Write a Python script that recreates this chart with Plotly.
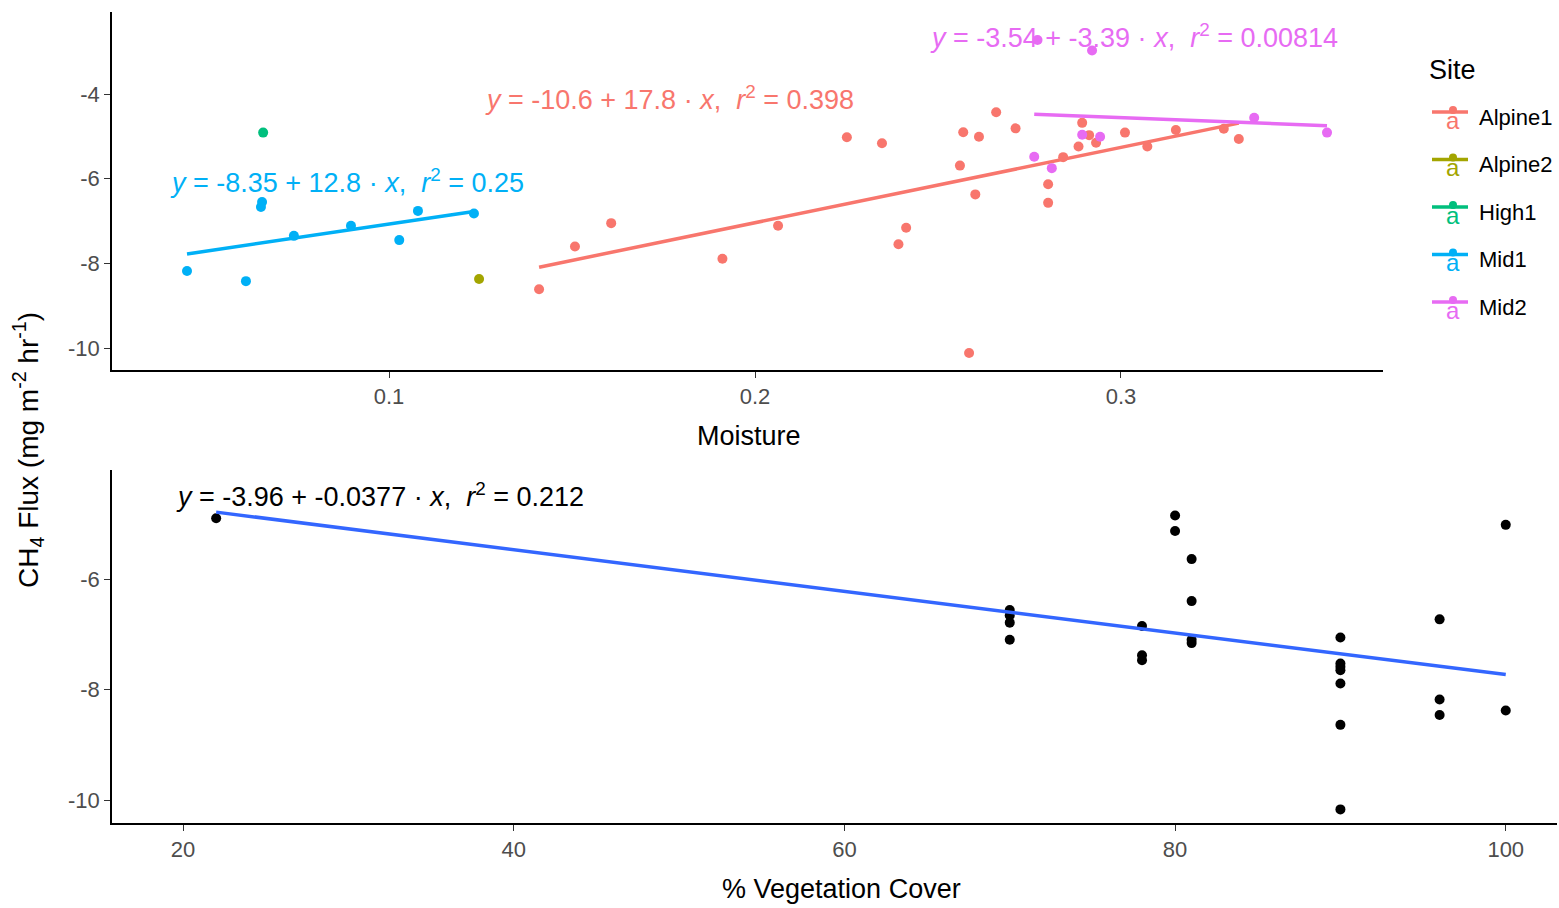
import plotly.graph_objects as go

W, H = 1559, 908

# ---------------- data ----------------
sites = ["Alpine1", "Alpine2", "High1", "Mid1", "Mid2"]
site_colors = ["#F8766D", "#A3A500", "#00BF7D", "#00B0F6", "#E76BF3"]

alpine1_moist = [0.141, 0.1508, 0.1607, 0.1911, 0.2063, 0.2251, 0.2347, 0.2392, 0.2413, 0.256,
                 0.2569, 0.2585, 0.2602, 0.2612, 0.2659, 0.2712, 0.2801, 0.2801, 0.2842, 0.2884,
                 0.2894, 0.2913, 0.2932, 0.3011, 0.3072, 0.315, 0.3281, 0.3322]
alpine1_flux = [-8.61, -7.60, -7.05, -7.89, -7.11, -5.02, -5.16, -7.55, -7.16, -5.69,
                -4.90, -10.12, -6.37, -5.01, -4.43, -4.81, -6.13, -6.57, -5.49, -5.24,
                -4.68, -4.97, -5.15, -4.91, -5.24, -4.85, -4.82, -5.06]
alpine2_moist = [0.1246]
alpine2_flux = [-8.37]
high1_moist = [0.0656]
high1_flux = [-4.91]
mid1_moist = [0.0448, 0.0609, 0.0650, 0.0653, 0.074, 0.0896, 0.1028, 0.1079, 0.1232]
mid1_flux = [-8.18, -8.42, -6.67, -6.55, -7.35, -7.11, -7.45, -6.76, -6.82]
mid2_moist = [0.2763, 0.2772, 0.2811, 0.2894, 0.2921, 0.2943, 0.3364, 0.3563]
mid2_flux = [-5.48, -2.72, -5.75, -4.96, -2.97, -5.01, -4.56, -4.91]

site_moist = [alpine1_moist, alpine2_moist, high1_moist, mid1_moist, mid2_moist]
site_flux = [alpine1_flux, alpine2_flux, high1_flux, mid1_flux, mid2_flux]

# fitted equations shown on the chart (intercept, slope, r2) ; None = no fit
fit_intercept = [-10.6, None, None, -8.35, -3.54]
fit_slope = [17.8, None, None, 12.8, -3.39]
fit_r2 = [0.398, None, None, 0.25, 0.00814]
# label anchor (data coords) for each equation
eq_x = [0.1256, None, None, 0.0395, 0.2474]
eq_y = [-4.09, None, None, -6.05, -2.63]

veg_cover = [22, 70, 70, 70, 70, 78, 78, 78, 80, 80, 81, 81, 81, 81,
             90, 90, 90, 90, 90, 90, 90, 96, 96, 96, 100, 100]
veg_flux = [-4.90, -6.56, -6.66, -6.79, -7.10, -6.85, -7.38, -7.47, -4.85, -5.13,
            -5.64, -6.40, -7.10, -7.16, -7.06, -7.53, -7.59, -7.65, -7.89, -8.64,
            -10.17, -6.73, -8.18, -8.46, -5.02, -8.38]
veg_intercept, veg_slope, veg_r2 = -3.96, -0.0377, 0.212

top_xticks = [0.1, 0.2, 0.3]
top_yticks = [-10, -8, -6, -4]
bot_xticks = [20, 40, 60, 80, 100]
bot_yticks = [-10, -8, -6]

# ---------------- figure ----------------
FONT = "Liberation Sans, Arial, sans-serif"
NB = "\u00a0"


def eq_text(a, b, r2):
    return (f"<i>y</i>{NB}={NB}{a:g}{NB}+{NB}{b:g}{NB}·{NB}<i>x</i>,{NB}{NB}"
            f"<i>r</i><sup>2</sup>{NB}={NB}{r2:g}")


fig = go.Figure()

for i, s in enumerate(sites):
    fig.add_trace(go.Scatter(x=site_moist[i], y=site_flux[i], mode="markers",
                             marker=dict(color=site_colors[i], size=10),
                             xaxis="x", yaxis="y", showlegend=False, name=s))
    if fit_intercept[i] is not None:
        xs = [min(site_moist[i]), max(site_moist[i])]
        ys = [fit_intercept[i] + fit_slope[i] * v for v in xs]
        fig.add_trace(go.Scatter(x=xs, y=ys, mode="lines",
                                 line=dict(color=site_colors[i], width=3.5),
                                 xaxis="x", yaxis="y", showlegend=False))
        fig.add_annotation(x=eq_x[i], y=eq_y[i], xref="x", yref="y",
                           text=eq_text(fit_intercept[i], fit_slope[i], fit_r2[i]),
                           showarrow=False, xanchor="left", yanchor="middle",
                           font=dict(family=FONT, size=27, color=site_colors[i]))

fig.add_trace(go.Scatter(x=veg_cover, y=veg_flux, mode="markers",
                         marker=dict(color="black", size=10),
                         xaxis="x2", yaxis="y2", showlegend=False))
vx = [min(veg_cover), max(veg_cover)]
vy = [veg_intercept + veg_slope * v for v in vx]
fig.add_trace(go.Scatter(x=vx, y=vy, mode="lines", line=dict(color="#3366FF", width=3.5),
                         xaxis="x2", yaxis="y2", showlegend=False))
fig.add_annotation(x=19.45, y=-4.48, xref="x2", yref="y2",
                   text=eq_text(veg_intercept, veg_slope, veg_r2),
                   showarrow=False, xanchor="left", yanchor="middle",
                   font=dict(family=FONT, size=27, color="black"))


def px_x(p):
    return p / W


def px_y(p):
    return 1 - p / H


def ax(ticks, domain, rng, anchor):
    return dict(showline=True, linecolor="black", linewidth=1.5, mirror=False,
                ticks="outside", ticklen=6, tickwidth=1.3, tickcolor="#333333",
                showgrid=False, zeroline=False,
                tickvals=ticks, ticktext=[f"{v:g}" for v in ticks],
                tickfont=dict(family=FONT, size=22, color="#4D4D4D"),
                domain=domain, range=rng, anchor=anchor)


fig.update_layout(
    width=W, height=H,
    margin=dict(l=0, r=0, t=0, b=0),
    paper_bgcolor="white", plot_bgcolor="white",
    showlegend=False,
    xaxis=ax(top_xticks, [px_x(112), px_x(1383)], [0.0243, 0.3716], "y"),
    yaxis=ax(top_yticks, [px_y(370), px_y(12)], [-10.52, -2.06], "x"),
    xaxis2=ax(bot_xticks, [px_x(112), px_x(1557)], [15.7, 103.1], "y2"),
    yaxis2=ax(bot_yticks, [px_y(823), px_y(470)], [-10.416, -4.027], "x2"),
)


def label(px, py, text, size, color="black", xanchor="center", angle=0):
    fig.add_annotation(x=px_x(px), y=px_y(py), xref="paper", yref="paper", text=text,
                       showarrow=False, xanchor=xanchor, yanchor="middle", textangle=angle,
                       font=dict(family=FONT, size=size, color=color))


# axis titles
label(749, 436, "Moisture", 27)
label(841, 889, "% Vegetation Cover", 27)
label(28, 450, "CH<sub>4</sub> Flux (mg m<sup>-2</sup> hr<sup>-1</sup>)", 28, angle=-90)

# legend (ggplot-style keys)
label(1427, 70, "Site", 27, xanchor="left")
for i, s in enumerate(sites):
    yc = 117 + i * 47.5
    fig.add_shape(type="line", xref="paper", yref="paper",
                  x0=px_x(1432), x1=px_x(1468), y0=px_y(yc - 5), y1=px_y(yc - 5),
                  line=dict(color=site_colors[i], width=3.5))
    label(1453, yc + 3, "a", 24, color=site_colors[i])
    fig.add_shape(type="circle", xref="paper", yref="paper",
                  x0=px_x(1449), x1=px_x(1457), y0=px_y(yc - 11), y1=px_y(yc - 3),
                  fillcolor=site_colors[i], line=dict(width=0))
    label(1477, yc, s, 22, xanchor="left")

fig.write_html("out.html")
